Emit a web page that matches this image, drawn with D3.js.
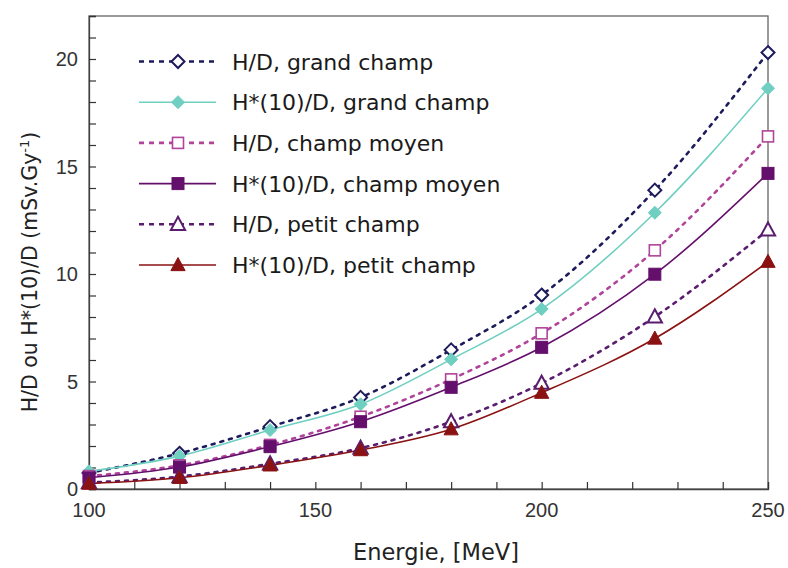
<!DOCTYPE html>
<html><head><meta charset="utf-8">
<script src="https://cdn.jsdelivr.net/npm/d3@7"></script>
<style>body{margin:0;background:#fff}svg{display:block}</style>
</head><body><svg id="c" width="788" height="568"></svg>
<script>
const energies = [100, 120, 140, 160, 180, 200, 225, 250];
const hdGrand    = [0.75, 1.66, 2.9, 4.26, 6.47, 9.02, 13.9, 20.3];
const hsGrand    = [0.82, 1.53, 2.74, 3.94, 6.03, 8.37, 12.85, 18.64];
const hdMoyen    = [0.6, 1.1, 2.05, 3.36, 5.1, 7.24, 11.1, 16.4];
const hsMoyen    = [0.52, 1.02, 1.97, 3.13, 4.73, 6.59, 9.99, 14.68];
const hdPetit    = [0.3, 0.58, 1.17, 1.9, 3.13, 4.92, 8.01, 12.05];
const hsPetit    = [0.25, 0.52, 1.1, 1.81, 2.78, 4.48, 7.0, 10.57];
const seriesNames = ["H/D, grand champ","H*(10)/D, grand champ","H/D, champ moyen","H*(10)/D, champ moyen","H/D, petit champ","H*(10)/D, petit champ"];
const xTickLabels = [100, 150, 200, 250];
const yTickLabels = [0, 5, 10, 15, 20];

const styles = [
  {color:"#1e1b5c", dash:"3,6", shape:"diamond", fill:false},
  {color:"#6fcfc1", dash:null,  shape:"diamond", fill:true},
  {color:"#b0449a", dash:"3,6", shape:"square",  fill:false},
  {color:"#650f6c", dash:null,  shape:"square",  fill:true},
  {color:"#5a1d6e", dash:"3,6", shape:"triangle",fill:false},
  {color:"#8a1212", dash:null,  shape:"triangle",fill:true}
];
const values = [hdGrand, hsGrand, hdMoyen, hsMoyen, hdPetit, hsPetit];

const svg = d3.select("#c");
const L=89, R=768, T=16, B=489;
const x = d3.scaleLinear().domain([100,250]).range([L,R]);
const y = d3.scaleLinear().domain([0,22]).range([B,T]);

svg.append("rect").attr("x",L).attr("y",T).attr("width",R-L).attr("height",B-T)
  .attr("fill","none").attr("stroke","#666").attr("stroke-width",1.3);

const xa = svg.append("g").attr("transform",`translate(0,${B})`)
  .call(d3.axisBottom(x).tickValues(d3.range(100,251,10)).tickSize(-7).tickFormat(""));
const ya = svg.append("g").attr("transform",`translate(${L},0)`)
  .call(d3.axisLeft(y).tickValues(d3.range(0,23,1)).tickSize(-7).tickFormat(""));
[xa,ya].forEach(g=>{g.select(".domain").attr("stroke","#444").attr("stroke-width",1.3);
  g.selectAll(".tick line").attr("stroke","#333").attr("stroke-width",1.2);});

svg.append("g").selectAll("text").data(xTickLabels).join("text")
  .attr("x",d=>x(d)).attr("y",517).attr("text-anchor","middle")
  .attr("font-family","Liberation Sans, Arial, sans-serif").attr("font-size",20).attr("fill","#333")
  .text(d=>d);
svg.append("g").selectAll("text").data(yTickLabels).join("text")
  .attr("x",78).attr("y",d=>y(d)+7).attr("text-anchor","end")
  .attr("font-family","Liberation Sans, Arial, sans-serif").attr("font-size",20).attr("fill","#333")
  .text(d=>d);

svg.append("text").attr("x",436).attr("y",560).attr("text-anchor","middle")
  .attr("font-family","DejaVu Sans, sans-serif").attr("font-size",22.5).attr("fill","#222")
  .text("Energie, [MeV]");
const yt = svg.append("text").attr("transform","translate(37,272) rotate(-90)").attr("text-anchor","middle")
  .attr("font-family","DejaVu Sans, sans-serif").attr("font-size",20.5).attr("fill","#222");
yt.append("tspan").text("H/D ou H*(10)/D (mSv.Gy");
yt.append("tspan").attr("font-size",13).attr("dy",-8).text("-1");
yt.append("tspan").attr("dy",8).text(")");

function marker(g, shape, cx, cy, st){
  const fill = st.fill ? st.color : "#fff";
  if(shape==="diamond"){
    const s=6.5;
    g.append("path").attr("d",`M${cx},${cy-s}L${cx+s},${cy}L${cx},${cy+s}L${cx-s},${cy}Z`)
      .attr("fill",fill).attr("stroke",st.color).attr("stroke-width",st.fill?1:2);
  } else if(shape==="square"){
    const s=st.fill?6:5.5;
    g.append("rect").attr("x",cx-s).attr("y",cy-s).attr("width",2*s).attr("height",2*s)
      .attr("fill",fill).attr("stroke",st.color).attr("stroke-width",st.fill?1:1.6);
  } else {
    const s=7.5;
    g.append("path").attr("d",`M${cx},${cy-s}L${cx+s*0.95},${cy+s*0.75}L${cx-s*0.95},${cy+s*0.75}Z`)
      .attr("fill",fill).attr("stroke",st.color).attr("stroke-width",st.fill?1:2);
  }
}

const line = d3.line().x(d=>x(d[0])).y(d=>y(d[1])).curve(d3.curveMonotoneX);
const plot = svg.append("g");
values.forEach((vals,i)=>{
  const st = styles[i];
  const pts = energies.map((e,j)=>[e,vals[j]]);
  plot.append("path").attr("d",line(pts)).attr("fill","none").attr("stroke",st.color)
    .attr("stroke-width",st.dash?2.6:1.6).attr("stroke-dasharray",st.dash)
    .attr("stroke-linecap",st.dash?"round":"butt");
});
values.forEach((vals,i)=>{
  const st = styles[i];
  energies.forEach((e,j)=>marker(plot, st.shape, x(e), y(vals[j]), st));
});

const leg = svg.append("g");
seriesNames.forEach((name,i)=>{
  const st = styles[i];
  const cy = 61.5 + i*40.7;
  leg.append("line").attr("x1",139).attr("x2",216).attr("y1",cy).attr("y2",cy)
    .attr("stroke",st.color).attr("stroke-width",st.dash?2.6:1.6).attr("stroke-dasharray",st.dash?"5,5":null);
  marker(leg, st.shape, 178, cy, st);
  leg.append("text").attr("x",232).attr("y",cy+8).attr("font-family","DejaVu Sans, sans-serif")
    .attr("font-size",22).attr("fill","#1a1a1a").text(name);
});
</script></body></html>
